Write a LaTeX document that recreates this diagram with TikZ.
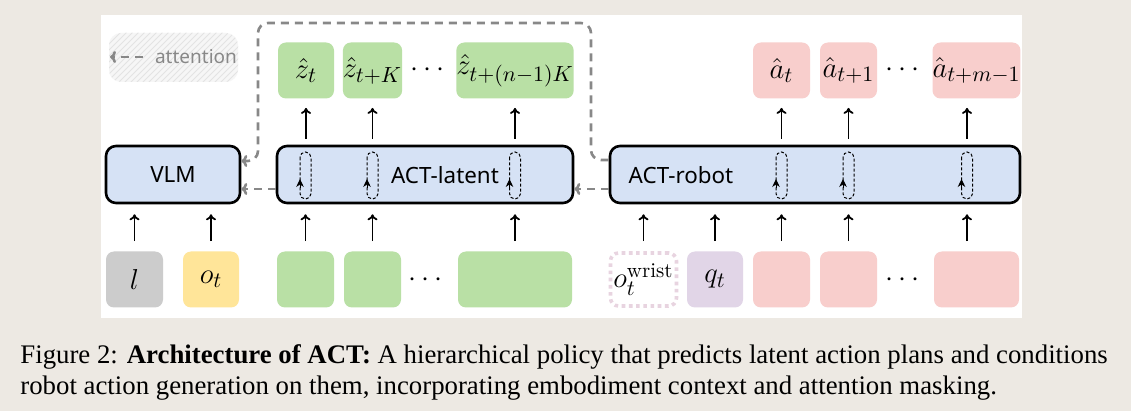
\documentclass[tikz,border=0pt]{standalone}
\usepackage{amsmath}
\usepackage{fontspec}
\setsansfont{Noto Sans}
\newfontfamily\capfont{Liberation Serif}
\usetikzlibrary{arrows.meta, calc, patterns}

\definecolor{paper}{RGB}{237,233,227}
\definecolor{blkblue}{RGB}{214,226,245}
\definecolor{latgreen}{RGB}{185,224,165}
\definecolor{actpink}{RGB}{248,206,204}
\definecolor{obsyellow}{RGB}{255,229,153}
\definecolor{langgray}{RGB}{204,204,204}
\definecolor{proppurple}{RGB}{225,213,231}
\definecolor{wristpink}{RGB}{232,212,224}
\definecolor{attgray}{RGB}{136,136,136}

\tikzset{
  tok/.style={rounded corners=4pt, minimum height=28pt, inner sep=0pt, font=\fontsize{15}{17}\selectfont},
  blk/.style={draw, line width=1.3pt, rounded corners=5pt, fill=blkblue, minimum height=28.5pt, inner sep=0pt},
  blklab/.style={font=\sffamily\fontsize{11.2}{13}\selectfont, inner sep=0pt},
  upb/.style={-{To[length=3pt,width=5pt]}, line width=0.9pt, shorten <=5pt, shorten >=5pt},
  upt/.style={-{To[length=3pt,width=5pt]}, line width=0.9pt, shorten <=3pt, shorten >=4.5pt},
  att/.style={draw=attgray, line width=1.3pt, dash pattern=on 4pt off 3pt, -{To[length=3pt,width=6pt]}},
  selfatt/.style={dash pattern=on 1.5pt off 1pt, line width=0.5pt, rounded corners=2.7pt},
}

\begin{document}
\begin{tikzpicture}[x=0.5pt, y=-0.5pt]
% page and panel
\fill[paper] (0,0) rectangle (1131,411);
\useasboundingbox (0,0) rectangle (1131,411);
\fill[white] (101,15) rectangle (1022,318);

% legend
\fill[gray!7, rounded corners=6pt] (109,33) rectangle (238,82);
\path[pattern=north east lines, pattern color=gray!22, rounded corners=6pt] (109,33) rectangle (238,82);
\node[font=\sffamily\fontsize{9.5}{11}\selectfont, text=attgray, inner sep=0pt] (attn) at (196,57) {attention};
\coordinate (attip) at (110,57);
\draw[att] ([xshift=-6pt]attn.west) -- (attip);

% blocks
\node[blk, minimum width=67pt] (vlm) at (173,174.5) {};
\node[blk, minimum width=148pt] (lat) at (425,174.5) {};
\node[blk, minimum width=205pt] (rob) at (815,174.5) {};
\node[blklab] (vlmlab) at (173,175) {VLM};
\node[blklab] (latlab) at (445,175) {ACT-latent};
\node[blklab] (roblab) at (681,175) {ACT-robot};

% self attention loops
\foreach \cx in {305.5,372.5,515,781.5,848.5,967} {
  \draw[selfatt] (\cx-5.5,152) rectangle (\cx+5.5,199);
  \draw[-{Stealth[length=4pt,width=3.8pt]}, line width=0.5pt] (\cx-5.5,188) -- (\cx-5.5,179);
}

% predicted tokens
\node[tok, fill=latgreen, minimum width=28pt] (zt) at (306,70.5) {$\hat{z}_t$};
\node[tok, fill=latgreen, minimum width=28.5pt] (ztk) at (372.5,70.5) {$\hat{z}_{t+K}$};
\node[tok] (zdots) at (430,70) {$\cdots$};
\node[tok, fill=latgreen, minimum width=57pt] (ztn) at (515,70.5) {$\hat{z}_{t+(n-1)K}$};
\node[tok, fill=actpink, minimum width=28.5pt] (at) at (781.5,70.5) {$\hat{a}_t$};
\node[tok, fill=actpink, minimum width=28.5pt] (at1) at (848.5,70.5) {$\hat{a}_{t+1}$};
\node[tok] (adots) at (905,70) {$\cdots$};
\node[tok, fill=actpink, minimum width=42.5pt] (atm) at (976.5,70.5) {$\hat{a}_{t+m-1}$};

% input tokens
\node[tok, fill=langgray, minimum width=28.5pt] (l) at (134.5,279.5) {$l$};
\node[tok, fill=obsyellow, minimum width=28pt] (ot) at (211,279.5) {$o_t$};
\node[tok, fill=latgreen, minimum width=28.5pt] (g1) at (305.5,279.5) {};
\node[tok, fill=latgreen, minimum width=28.5pt] (g2) at (372.5,279.5) {};
\node[tok] (gdots) at (428,280) {$\cdots$};
\node[tok, fill=latgreen, minimum width=57pt] (g3) at (515,279.5) {};
\node[tok, draw=wristpink, line width=1.8pt, dash pattern=on 1.8pt off 1.8pt, minimum width=33pt, minimum height=26.5pt] (wr) at (643.5,279.5) {$o_t^{\mathrm{wrist}}$};
\node[tok, fill=proppurple, minimum width=28pt] (qt) at (715,279.5) {$q_t$};
\node[tok, fill=actpink, minimum width=28.5pt] (p1) at (781.5,279.5) {};
\node[tok, fill=actpink, minimum width=28.5pt] (p2) at (848.5,279.5) {};
\node[tok] (pdots) at (905,280) {$\cdots$};
\node[tok, fill=actpink, minimum width=42.5pt] (p3) at (976.5,279.5) {};
\coordinate (c9) at (967,0);

% inputs into blocks
\draw[upb] (l.north) -- (l.north |- vlm.south);
\draw[upb] (ot.north) -- (ot.north |- vlm.south);
\draw[upb] (g1.north) -- (g1.north |- lat.south);
\draw[upb] (g2.north) -- (g2.north |- lat.south);
\draw[upb] (g3.north) -- (g3.north |- lat.south);
\draw[upb] (wr.north) -- (wr.north |- rob.south);
\draw[upb] (qt.north) -- (qt.north |- rob.south);
\draw[upb] (p1.north) -- (p1.north |- rob.south);
\draw[upb] (p2.north) -- (p2.north |- rob.south);
\draw[upb] (c9 |- p3.north) -- (c9 |- rob.south);

% blocks to outputs
\draw[upt] (zt.south |- lat.north) -- (zt.south);
\draw[upt] (ztk.south |- lat.north) -- (ztk.south);
\draw[upt] (ztn.south |- lat.north) -- (ztn.south);
\draw[upt] (at.south |- rob.north) -- (at.south);
\draw[upt] (at1.south |- rob.north) -- (at1.south);
\draw[upt] (c9 |- rob.north) -- (c9 |- atm.south);

% attention links
\draw[att] ($(lat.west)+(0,14.5)$) -- ($(vlm.east)+(0,14.5)$);
\draw[att] ($(rob.west)+(0,14.5)$) -- ($(lat.east)+(0,14.5)$);
\draw[att, rounded corners=5pt] ($(rob.west)+(0,-14.5)$) -| (591,23) -| (258,161) -- ($(vlm.east)+(0,-13.5)$);

% caption
\node[anchor=base west, inner sep=0pt, font=\capfont\fontsize{13.4}{16}\selectfont] (cap1) at (20,364) {Figure 2: \textbf{Architecture of ACT:} A hierarchical policy that predicts latent action plans and conditions};
\node[anchor=base west, inner sep=0pt, font=\capfont\fontsize{13.4}{16}\selectfont] (cap2) at (20,394) {robot action generation on them, incorporating embodiment context and attention masking.};
\end{tikzpicture}
\end{document}
